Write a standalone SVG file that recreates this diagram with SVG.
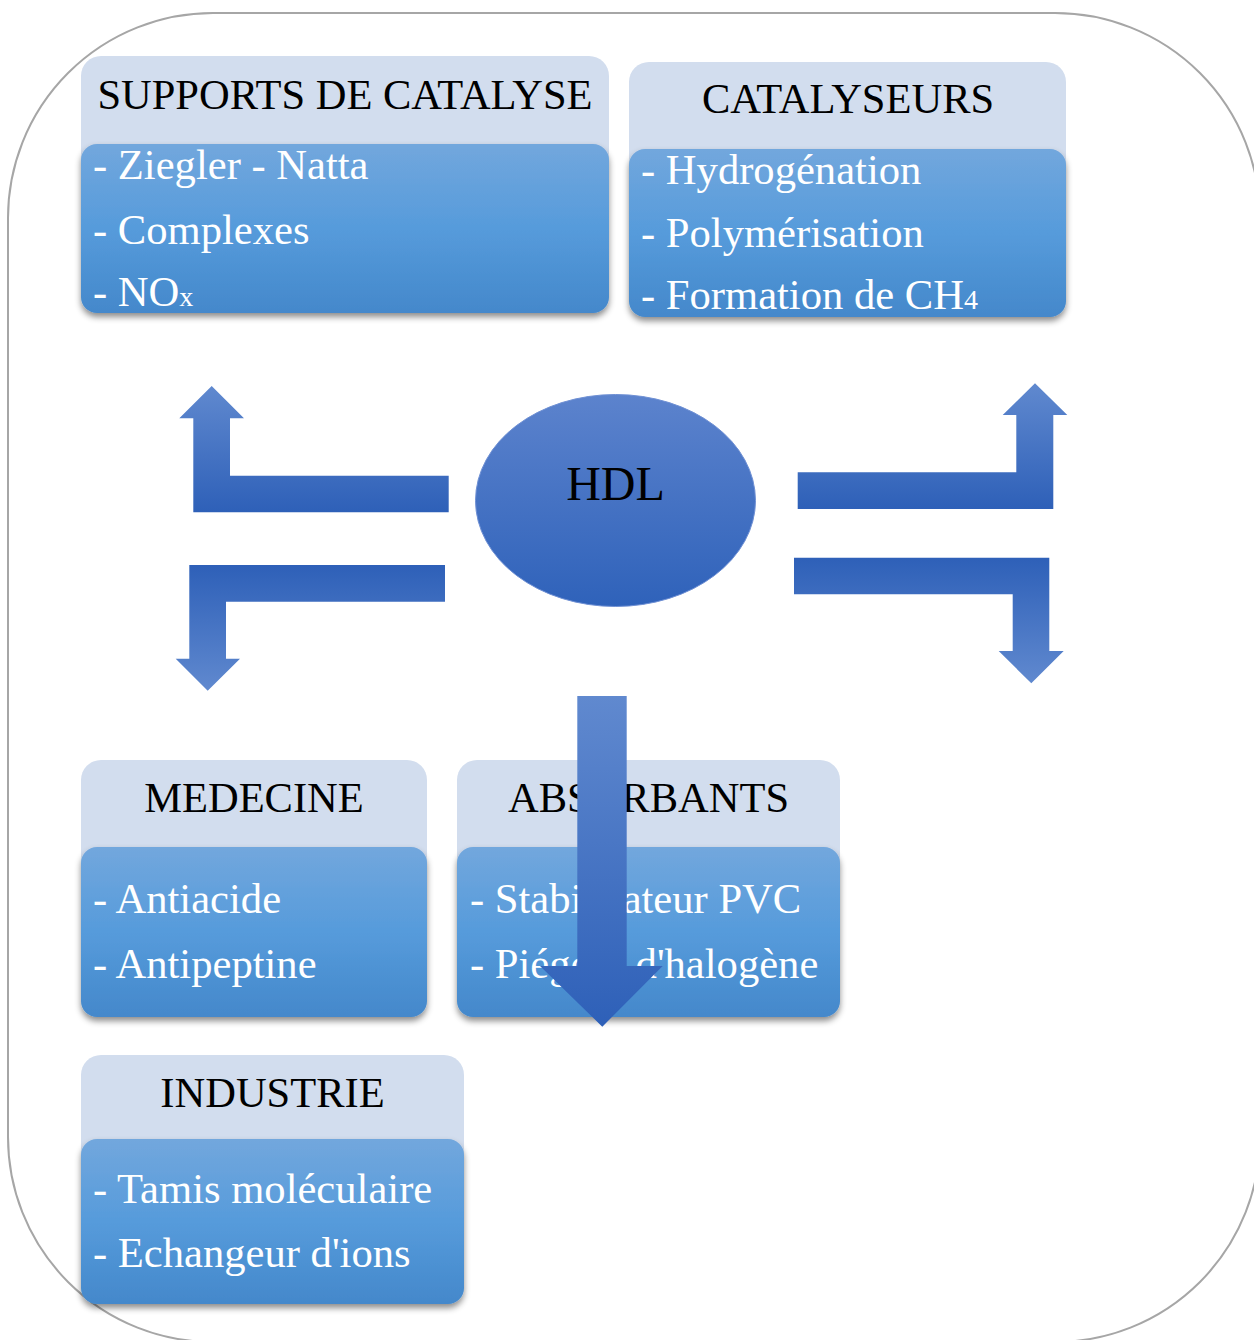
<svg xmlns="http://www.w3.org/2000/svg" width="1254" height="1340" viewBox="0 0 1254 1340">
<style>
.hdr{font-family:"Liberation Serif","Times New Roman",serif;font-size:42.5px;fill:#000;text-anchor:middle}
.itm{font-family:"Liberation Serif","Times New Roman",serif;font-size:42.6px;fill:#fff}
.sub{font-size:28px}
.light{fill:#D2DDEE}
.blue{fill:url(#gBlue);filter:url(#shadow)}
.frame{fill:none;stroke:#A6A6A6;stroke-width:2}
</style>
<defs>
<linearGradient id="gBlue" x1="0" y1="0" x2="0" y2="1">
<stop offset="0" stop-color="#72A7DD"/>
<stop offset="0.5" stop-color="#569BDB"/>
<stop offset="1" stop-color="#4488CB"/>
</linearGradient>
<linearGradient id="gUp" x1="0" y1="0" x2="0" y2="1">
<stop offset="0" stop-color="#6089CF"/>
<stop offset="1" stop-color="#2E60B8"/>
</linearGradient>
<linearGradient id="gDown" x1="0" y1="0" x2="0" y2="1">
<stop offset="0" stop-color="#2E60B8"/>
<stop offset="1" stop-color="#6089CF"/>
</linearGradient>
<linearGradient id="gEll" x1="0" y1="0" x2="0" y2="1">
<stop offset="0" stop-color="#5C83CD"/>
<stop offset="1" stop-color="#2F62BA"/>
</linearGradient>
<filter id="shadow" x="-5%" y="-5%" width="110%" height="120%">
<feDropShadow dx="0" dy="4" stdDeviation="3" flood-color="#000" flood-opacity="0.45"/>
</filter>
</defs>
<rect class="frame" x="8" y="13" width="1252" height="1329" rx="205" ry="205"/>

<g id="supports">
<rect class="light" x="81" y="56" width="528" height="200" rx="20"/>
<rect class="blue" x="81" y="144" width="528" height="169" rx="16"/>
<text class="hdr" x="345" y="109">SUPPORTS DE CATALYSE</text>
<text class="itm" x="93" y="179">- Ziegler - Natta</text>
<text class="itm" x="93" y="244">- Complexes</text>
<text class="itm" x="93" y="306">- NO<tspan class="sub">x</tspan></text>
</g>

<g id="catalyseurs">
<rect class="light" x="629" y="62" width="437" height="200" rx="20"/>
<rect class="blue" x="629" y="149" width="437" height="168" rx="16"/>
<text class="hdr" x="848" y="113">CATALYSEURS</text>
<text class="itm" x="641" y="184">- Hydrogénation</text>
<text class="itm" x="641" y="247">- Polymérisation</text>
<text class="itm" x="641" y="309">- Formation de CH<tspan class="sub">4</tspan></text>
</g>

<g id="hdl">
<ellipse cx="615.5" cy="500.5" rx="140" ry="106" fill="url(#gEll)" stroke="#6F90D4" stroke-width="1"/>
<text x="615.5" y="500" style="font-family:'Liberation Serif','Times New Roman',serif;font-size:48px;fill:#000;text-anchor:middle">HDL</text>
</g>

<g id="medecine">
<rect class="light" x="81" y="760" width="346" height="200" rx="20"/>
<rect class="blue" x="81" y="847" width="346" height="170" rx="16"/>
<text class="hdr" x="254" y="812">MEDECINE</text>
<text class="itm" x="93" y="913">- Antiacide</text>
<text class="itm" x="93" y="978">- Antipeptine</text>
</g>

<g id="absorbants">
<rect class="light" x="457" y="760" width="383" height="200" rx="20"/>
<rect class="blue" x="457" y="847" width="383" height="170" rx="16"/>
<text class="hdr" x="648.5" y="812">ABSORBANTS</text>
<text class="itm" x="470" y="913">- Stabilisateur PVC</text>
<text class="itm" x="470" y="978">- Piégeur d'halogène</text>
</g>

<g id="industrie">
<rect class="light" x="81" y="1055" width="383" height="200" rx="20"/>
<rect class="blue" x="81" y="1139" width="383" height="165" rx="16"/>
<text class="hdr" x="272.5" y="1107">INDUSTRIE</text>
<text class="itm" x="93" y="1203">- Tamis moléculaire</text>
<text class="itm" x="93" y="1267">- Echangeur d'ions</text>
</g>

<g id="connectors">
<polygon fill="url(#gUp)" points="448.7,475.7 230,475.7 230,418.3 244,418.3 211.7,386 179.3,418.3 193.3,418.3 193.3,512.3 448.7,512.3"/>
<polygon fill="url(#gDown)" points="445,565 189.3,565 189.3,658.7 175.7,658.7 207.7,690.7 240,658.7 226,658.7 226,601.7 445,601.7"/>
<polygon fill="url(#gUp)" points="797.7,472.3 1016.3,472.3 1016.3,415 1002.7,415 1035,383.3 1067.3,415 1053.3,415 1053.3,509 797.7,509"/>
<polygon fill="url(#gDown)" points="794,557.7 1049.3,557.7 1049.3,651 1063.7,651 1031.3,683.3 998.7,651 1012.7,651 1012.7,594.3 794,594.3"/>
<polygon fill="url(#gUp)" points="577.3,696 626.7,696 626.7,966 662.7,966 602.3,1026.7 540,966 577.3,966"/>
</g>
</svg>
